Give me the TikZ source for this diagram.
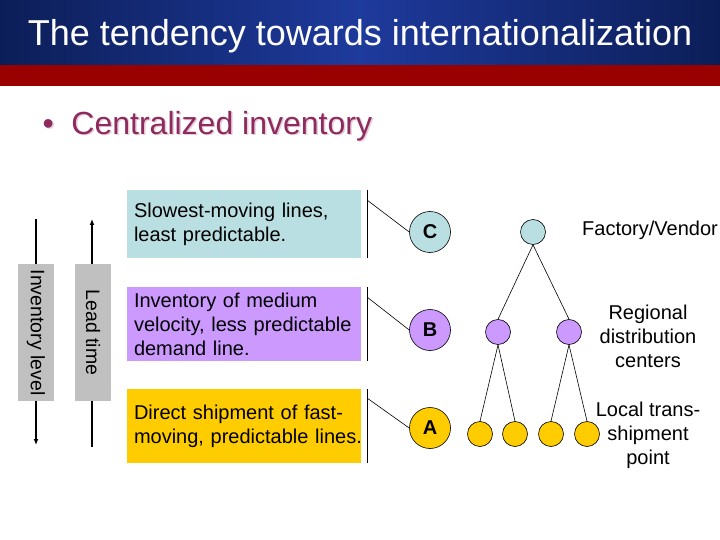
\documentclass[tikz,border=0pt]{standalone}
\usepackage{fontspec}
\setmainfont{Liberation Sans}
\usetikzlibrary{arrows.meta}
\definecolor{navy}{HTML}{0C1E58}
\definecolor{midblue}{HTML}{1E3A9C}
\definecolor{redband}{HTML}{990000}
\definecolor{maroon}{HTML}{8E2B5E}
\definecolor{shadowpink}{HTML}{E6CCD9}
\definecolor{cyanbox}{HTML}{B9DFE2}
\definecolor{purplebox}{HTML}{CC99FF}
\definecolor{yellowbox}{HTML}{FFCC00}
\definecolor{graybox}{HTML}{C0C0C0}
\hyphenpenalty=10000
\begin{document}
\begin{tikzpicture}[x=1pt,y=-1pt,
  infobox/.style={minimum width=234pt,text width=220pt,align=left,inner xsep=7pt,inner ysep=4pt,font=\fontsize{20}{24}\selectfont,anchor=center},
  sidebox/.style={fill=graybox,rotate=-90,minimum width=137pt,minimum height=36pt,inner sep=0pt,font=\fontsize{19.5}{24}\selectfont},
  lvl/.style={circle,draw=black,line width=0.6pt,minimum size=41pt,inner sep=0pt,font=\bfseries\fontsize{20}{22}\selectfont},
  tnode/.style={circle,draw=black,line width=0.6pt,minimum size=25pt,inner sep=0pt},
  lbl/.style={align=center,font=\fontsize{20}{24}\selectfont},
  axisarrow/.style={line width=1.6pt,-{Latex[length=6pt,width=5pt]}},
  bracket/.style={line width=0.8pt},
  tline/.style={line width=0.6pt}]
\useasboundingbox (0,0) rectangle (720,540);
% header
\shade[left color=navy,right color=navy,middle color=midblue] (0,0) rectangle (720,65);
\fill[redband] (0,65) rectangle (720,86);
\node[text=white,font=\fontsize{36}{40}\selectfont] (title) at (360,36) {The tendency towards internationalization};
% bullet
\node[anchor=west,text=shadowpink,font=\fontsize{32}{36}\selectfont] (bulletshadow) at (40.5,127.5) {\textbullet\ \ Centralized inventory};
\node[anchor=west,text=maroon,font=\fontsize{32}{36}\selectfont] (bullet) at (39,126) {\textbullet\ \ Centralized inventory};
% axes
\coordinate (invtop) at (36,219);
\coordinate (invbot) at (36,445);
\coordinate (leadbot) at (92,447);
\coordinate (leadtop) at (92,219);
\draw[axisarrow] (invtop) -- (invbot);
\draw[axisarrow] (leadbot) -- (leadtop);
\node[sidebox] (inv) at (36,332.5) {Inventory level};
\node[sidebox] (lead) at (93,332.5) {Lead time};
% boxes
\node[infobox,fill=cyanbox,minimum height=68pt] (boxC) at (244,224) {\mbox{Slowest-moving lines,}\\\mbox{least predictable.}};
\node[infobox,fill=purplebox,minimum height=74pt] (boxB) at (244,324) {\mbox{Inventory of medium}\\\mbox{velocity, less predictable}\\\mbox{demand line.}};
\node[infobox,fill=yellowbox,minimum height=74pt] (boxA) at (244,426) {\mbox{Direct shipment of fast-}\\\mbox{moving, predictable lines.}};
% level circles
\node[lvl,fill=cyanbox] (C) at (430,232) {C};
\node[lvl,fill=purplebox] (B) at (430,330) {B};
\node[lvl,fill=yellowbox] (A) at (430,428) {A};
% brackets
\coordinate (bCt) at (367,190); \coordinate (bCb) at (367,258); \coordinate (bCd) at (367,200);
\coordinate (bBt) at (367,287); \coordinate (bBb) at (367,361); \coordinate (bBd) at (367,297);
\coordinate (bAt) at (367,389); \coordinate (bAb) at (367,463); \coordinate (bAd) at (367,398);
\draw[bracket] (bCt) -- (bCb);
\draw[bracket] (bBt) -- (bBb);
\draw[bracket] (bAt) -- (bAb);
\draw[tline] (bCd) -- (C.west);
\draw[tline] (bBd) -- (B.west);
\draw[tline] (bAd) -- (A.west);
% tree
\node[tnode,fill=cyanbox] (F) at (533,232) {};
\node[tnode,fill=purplebox] (R1) at (498,332) {};
\node[tnode,fill=purplebox] (R2) at (569,332) {};
\node[tnode,fill=yellowbox] (L1) at (480,434) {};
\node[tnode,fill=yellowbox] (L2) at (515,434) {};
\node[tnode,fill=yellowbox] (L3) at (551,434) {};
\node[tnode,fill=yellowbox] (L4) at (587,434) {};
\draw[tline] (F.south) -- (R1.north);
\draw[tline] (F.south) -- (R2.north);
\draw[tline] (R1.south) -- (L1.north);
\draw[tline] (R1.south) -- (L2.north);
\draw[tline] (R2.south) -- (L3.north);
\draw[tline] (R2.south) -- (L4.north);
% labels
\node[lbl] (fv) at (650,230) {Factory/Vendor};
\node[lbl] (rdc) at (648,336) {Regional\\distribution\\centers};
\node[lbl] (lts) at (648,435) {Local trans-\\shipment\\point};
\end{tikzpicture}
\end{document}
